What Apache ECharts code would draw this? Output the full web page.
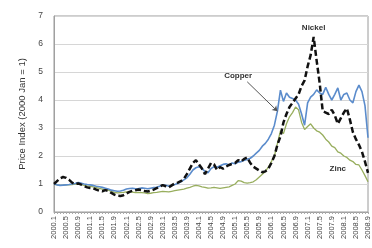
<!DOCTYPE html>
<html>
<head>
<meta charset="utf-8">
<script src="https://cdn.jsdelivr.net/npm/echarts@6/dist/echarts.min.js"></script>
<style>
  html, body { margin: 0; padding: 0; background: #fff; }
  #chart { width: 372px; height: 248px; }
</style>
</head>
<body>
<div id="chart"></div>
<script>
// monthly labels 2000.1 .. 2008.9
var months = [];
for (var y = 2000; y <= 2008; y++) {
    for (var m = 1; m <= 12; m++) {
        if (y == 2008 && m > 9) break;
        months.push(y + '.' + m);
    }
}

var copper = [
    1.00, 0.97, 0.95, 0.96, 0.97, 0.98, 1.00, 1.02, 1.05, 1.03, 1.00, 0.98,
    0.97, 0.95, 0.92, 0.90, 0.88, 0.85, 0.82, 0.78, 0.76, 0.74, 0.75, 0.78,
    0.82, 0.84, 0.85, 0.83, 0.84, 0.86, 0.85, 0.83, 0.85, 0.87, 0.88, 0.92,
    0.96, 0.95, 0.93, 0.95, 0.98, 1.02, 1.08, 1.15, 1.22, 1.35, 1.50, 1.58,
    1.62, 1.55, 1.45, 1.40, 1.55, 1.62, 1.60, 1.65, 1.70, 1.72, 1.68, 1.75,
    1.72, 1.78, 1.80, 1.85, 1.88, 1.92, 2.00, 2.10, 2.20, 2.35, 2.45, 2.60,
    2.80, 3.10, 3.60, 4.35, 3.95, 4.25, 4.10, 4.05, 4.00, 3.85, 3.50, 3.10,
    3.90, 4.10, 4.20, 4.36, 4.25, 4.20, 4.45, 4.20, 4.00, 4.20, 4.43, 4.00,
    4.20, 4.25, 4.00, 3.90, 4.30, 4.53, 4.30, 3.80, 2.65
];

var nickel = [
    1.00, 1.10, 1.20, 1.25, 1.22, 1.15, 1.05, 1.00, 1.02, 0.98, 0.92, 0.88,
    0.86, 0.85, 0.80, 0.76, 0.74, 0.78, 0.75, 0.68, 0.62, 0.58, 0.57, 0.60,
    0.66, 0.72, 0.76, 0.78, 0.80, 0.78, 0.75, 0.73, 0.76, 0.80, 0.85, 0.90,
    0.96, 0.92, 0.88, 0.95, 1.02, 1.05, 1.10, 1.18, 1.35, 1.55, 1.75, 1.85,
    1.70, 1.55, 1.35, 1.55, 1.75, 1.70, 1.50, 1.60, 1.55, 1.62, 1.68, 1.72,
    1.75, 1.85, 1.80, 1.90, 1.95, 1.75, 1.62, 1.55, 1.48, 1.42, 1.45, 1.55,
    1.75, 2.00, 2.40, 2.70, 3.20, 3.50, 3.75, 3.90, 4.05, 4.20, 4.50, 4.70,
    5.20, 5.60, 6.25, 5.40, 4.60, 3.60, 3.55, 3.50, 3.65, 3.45, 3.15, 3.35,
    3.55, 3.70, 3.30, 2.85, 2.60, 2.40, 2.15, 1.80, 1.40
];

var zinc = [
    1.00, 0.97, 0.95, 0.96, 0.98, 0.97, 0.98, 1.00, 1.02, 0.98, 0.95, 0.93,
    0.92, 0.90, 0.87, 0.84, 0.82, 0.80, 0.78, 0.74, 0.70, 0.68, 0.69, 0.70,
    0.72, 0.73, 0.71, 0.69, 0.70, 0.69, 0.68, 0.66, 0.67, 0.69, 0.70, 0.72,
    0.74, 0.73, 0.72, 0.74, 0.76, 0.78, 0.80, 0.82, 0.85, 0.88, 0.92, 0.95,
    0.93, 0.90, 0.88, 0.85, 0.86, 0.88, 0.86, 0.84, 0.86, 0.88, 0.90, 0.95,
    1.00, 1.12, 1.10, 1.05, 1.03, 1.05, 1.08, 1.15, 1.25, 1.35, 1.45, 1.60,
    1.80, 2.00, 2.45, 2.90, 2.80, 3.15, 3.40, 3.55, 3.75, 3.65, 3.20, 2.95,
    3.05, 3.15, 3.00, 2.90, 2.85, 2.75, 2.60, 2.50, 2.35, 2.30, 2.15, 2.10,
    2.00, 1.95, 1.85, 1.80, 1.70, 1.68, 1.50, 1.30, 1.08
];

var yTicks = [0, 7, 1];   // min, max, interval

var font = 'Liberation Sans, Arial, sans-serif';
var myChart = echarts.init(document.getElementById('chart'));

var option = {
    animation: false,
    textStyle: { fontFamily: font },
    grid: {
        left: 54, right: 2, top: 16, bottom: 36,
        show: true, borderColor: '#9a9a9a', borderWidth: 1
    },
    xAxis: {
        type: 'category',
        data: months,
        boundaryGap: false,
        axisLine: { lineStyle: { color: '#a0a0a0' } },
        axisTick: { interval: 0, length: 2, lineStyle: { color: '#aaa' } },
        axisLabel: {
            interval: 3, rotate: 90, fontSize: 7.5, color: '#444', margin: 4
        },
        splitLine: { show: false }
    },
    yAxis: {
        type: 'value',
        min: yTicks[0], max: yTicks[1], interval: yTicks[2],
        name: 'Price Index (2000 Jan = 1)',
        nameLocation: 'middle',
        nameGap: 27,
        nameTextStyle: { fontSize: 9.5, color: '#333' },
        axisLine: { show: true, lineStyle: { color: '#a0a0a0' } },
        axisLabel: { fontSize: 8.5, color: '#444', margin: 11 },
        splitLine: { lineStyle: { color: '#d6d6d6' } }
    },
    series: [
        {
            name: 'Zinc', type: 'line', data: zinc, symbol: 'none',
            lineStyle: { color: '#98ae5e', width: 1.3 }
        },
        {
            name: 'Copper', type: 'line', data: copper, symbol: 'none',
            lineStyle: { color: '#5b8ccc', width: 1.6 },
            markLine: {
                silent: true, symbol: ['none', 'arrow'], symbolSize: 5,
                label: { show: false },
                lineStyle: { color: '#555', width: 1, type: 'solid' },
                data: [[{ coord: ['2005.5', 4.65] }, { coord: ['2006.3', 3.6] }]]
            }
        },
        {
            name: 'Nickel', type: 'line', data: nickel, symbol: 'none',
            lineStyle: { color: '#111', width: 2.5, type: [6, 3] }
        }
    ]
};
myChart.setOption(option);

// text labels placed through the axes
function label(text, cat, val) {
    var p = myChart.convertToPixel({ gridIndex: 0 }, [cat, val]);
    return {
        type: 'text', x: p[0], y: p[1],
        style: { text: text, fill: '#333', font: 'bold 8px ' + font, align: 'center', verticalAlign: 'middle' }
    };
}
myChart.setOption({
    graphic: [
        label('Nickel', '2007.3', 6.57),
        label('Copper', '2005.2', 4.86),
        label('Zinc', '2007.11', 1.53)
    ]
});
</script>
</body>
</html>
